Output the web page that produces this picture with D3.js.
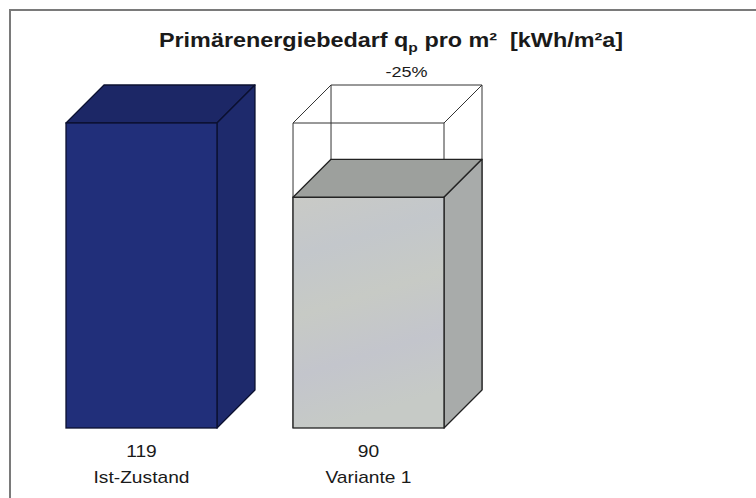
<!DOCTYPE html>
<html><head><meta charset="utf-8">
<script src="https://cdn.jsdelivr.net/npm/d3@7"></script>
<style>body{margin:0;background:#fff}svg{display:block}text{white-space:pre}</style>
</head><body>
<svg id="c" width="756" height="498"></svg>
<script>
const categories = ["Ist-Zustand", "Variante 1"];
const values = [119, 90];
const baseline = [null, 119];
const changeLabels = ["", "-25%"];
const titleParts = ["Primärenergiebedarf q", "p", " pro m²  [kWh/m²a]"];

const FONT = "Liberation Sans, Arial, sans-serif";
const SX = 1.2; // horizontal stretch of the reference text

const svg = d3.select("#c");
svg.append("rect").attr("x",10).attr("y",10).attr("width",780).attr("height",520)
  .attr("fill","#fff").attr("stroke","#7a7a7a").attr("stroke-width",2);

const x = d3.scaleBand().domain(categories).range([66,444]).paddingInner(0.335).paddingOuter(0);
const y = d3.scaleLinear().domain([0,119]).range([428,123]);
const dx = 38, dy = -38;

const faces = [
  {front:"#212f7a", top:"#1c2766", side:"#1e2a6c", stroke:"#0b1030"},
  {front:"#c6c9c9", top:"#9da09d", side:"#a8abaa", stroke:"#222"}
];

const defs = svg.append("defs");
const g1 = defs.append("linearGradient").attr("id","lg").attr("x1",0).attr("y1",0).attr("x2",0.2).attr("y2",1);
[["0","#c9cac6"],["0.25","#c3c7cb"],["0.5","#c7cac5"],["0.75","#c3c5cc"],["1","#c6cac6"]]
  .forEach(s=>g1.append("stop").attr("offset",s[0]).attr("stop-color",s[1]));

function box(g, x0, w, yTop, yBot, f, frontFill){
  const pts = a => a.map(p=>p.join(",")).join(" ");
  g.append("polygon").attr("points",pts([[x0,yTop],[x0+dx,yTop+dy],[x0+w+dx,yTop+dy],[x0+w,yTop]]))
    .attr("fill",f.top).attr("stroke",f.stroke).attr("stroke-width",1.3).attr("stroke-linejoin","round");
  g.append("polygon").attr("points",pts([[x0+w,yTop],[x0+w+dx,yTop+dy],[x0+w+dx,yBot+dy],[x0+w,yBot]]))
    .attr("fill",f.side).attr("stroke",f.stroke).attr("stroke-width",1.3).attr("stroke-linejoin","round");
  g.append("rect").attr("x",x0).attr("y",yTop).attr("width",w).attr("height",yBot-yTop)
    .attr("fill",frontFill||f.front).attr("stroke",f.stroke).attr("stroke-width",1.3);
}
function wire(g, x0, w, yTop, yBot){
  const p = d3.path();
  p.moveTo(x0,yBot); p.lineTo(x0,yTop); p.lineTo(x0+w,yTop); p.lineTo(x0+w,yBot);
  p.moveTo(x0,yTop); p.lineTo(x0+dx,yTop+dy); p.lineTo(x0+w+dx,yTop+dy); p.lineTo(x0+w,yTop);
  p.moveTo(x0+w+dx,yTop+dy); p.lineTo(x0+w+dx,yBot+dy);
  p.moveTo(x0+dx,yTop+dy); p.lineTo(x0+dx,yBot+dy);
  g.append("path").attr("d",p.toString()).attr("fill","none").attr("stroke","#333").attr("stroke-width",1);
}
function label(cx, by, size, txt, weight){
  return svg.append("text").attr("transform",`translate(${cx},${by}) scale(${SX},1)`)
    .attr("text-anchor","middle").attr("font-family",FONT).attr("font-size",size)
    .attr("font-weight",weight||"normal").attr("fill","#1a1a1a").text(txt);
}

categories.forEach((c,i)=>{
  const g = svg.append("g");
  const x0 = x(c), w = x.bandwidth();
  if (baseline[i] != null) {
    wire(g, x0, w, y(baseline[i]), y(0));
    label(x0+dx+w/2, y(baseline[i])+dy-8, 15, changeLabels[i]);
  }
  box(g, x0, w, y(values[i]), y(0), faces[i], i===1?"url(#lg)":null);
  label(x0+w/2, 457, 16, String(values[i]));
  label(x0+w/2, 483, 16, c);
});

const t = label(391, 47, 19.5, null, "bold").text(null);
t.append("tspan").text(titleParts[0]);
t.append("tspan").attr("font-size",13).attr("dy",5).text(titleParts[1]);
t.append("tspan").attr("dy",-5).text(titleParts[2]);
</script>
</body></html>
